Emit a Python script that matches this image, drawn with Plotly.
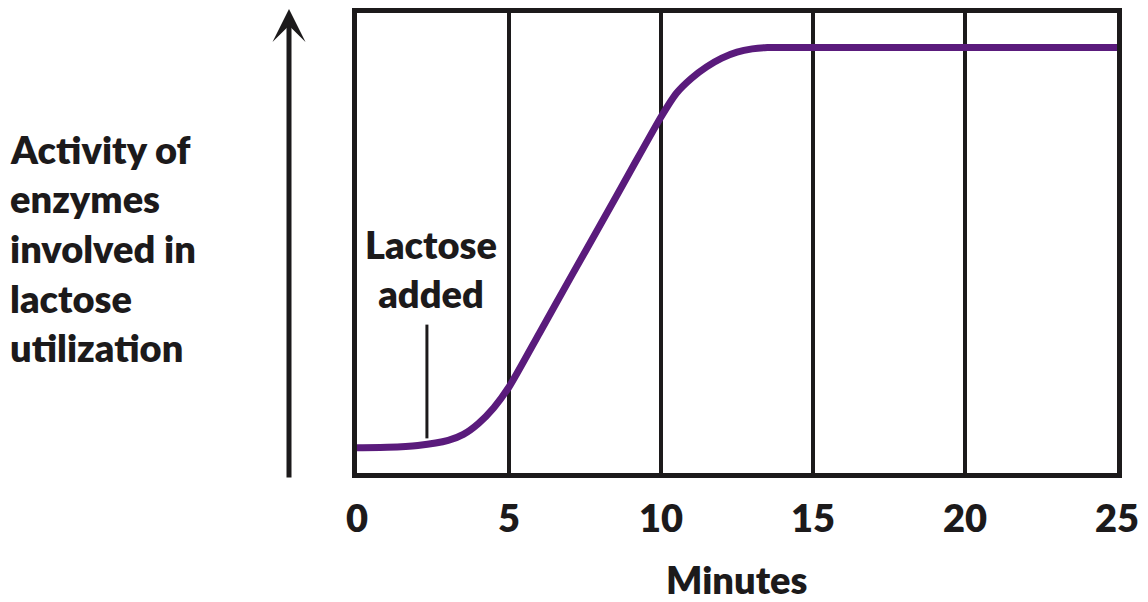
import plotly.graph_objects as go

# Data (minutes, relative enzyme activity 0..1)
minutes = [0, 1, 2, 3, 3.5, 4, 4.5, 5, 6, 7, 8, 9, 10, 10.5, 11, 11.5, 12, 12.5, 13, 13.5, 15, 20, 25]
activity = [0.055, 0.056, 0.060, 0.071, 0.084, 0.108, 0.142, 0.187, 0.304, 0.422, 0.539,
            0.657, 0.774, 0.825, 0.858, 0.883, 0.902, 0.915, 0.922, 0.925, 0.925, 0.925, 0.925]
x_ticks = [0, 5, 10, 15, 20, 25]
x_tick_labels = ["0", "5", "10", "15", "20", "25"]
y_label_lines = ["Activity of", "enzymes", "involved in", "lactose", "utilization"]
x_title = "Minutes"
lactose_label = "Lactose<br>added"
lactose_time = 2.3

INK = "#1c1a1b"
PURPLE = "#5a1b7c"
FONT = "Lato"
WEIGHT = 800

fig = go.Figure()
fig.add_trace(go.Scatter(
    x=minutes, y=activity, mode="lines",
    line=dict(color=PURPLE, width=7, shape="spline", smoothing=0.6),
    hoverinfo="skip", showlegend=False,
))

W, H = 1148, 602
L, R, T, B = 357, 31, 8, 129
pw, ph = W - L - R, H - T - B

def px_to_paper_x(px):
    return (px - L) / pw

def px_to_paper_y(py):
    return (H - B - py) / ph

fig.update_layout(
    width=W, height=H,
    margin=dict(l=L, r=R, t=T, b=B),
    plot_bgcolor="white", paper_bgcolor="white",
    font=dict(family=FONT, color=INK),
    xaxis=dict(
        range=[0, 25], tickvals=x_ticks, ticktext=x_tick_labels,
        showgrid=True, gridcolor=INK, gridwidth=4,
        showline=True, linecolor=INK, linewidth=5, mirror=True,
        ticks="outside", ticklen=0, ticklabelstandoff=8,
        tickfont=dict(family=FONT, size=38, color=INK, weight=WEIGHT),
        zeroline=False, fixedrange=True,
    ),
    yaxis=dict(
        range=[0, 1], showgrid=False, showticklabels=False,
        showline=True, linecolor=INK, linewidth=5, mirror=True,
        zeroline=False, fixedrange=True,
    ),
)

# x-axis title
fig.add_annotation(
    text=x_title, xref="paper", yref="paper",
    x=px_to_paper_x(737), y=px_to_paper_y(580),
    xanchor="center", yanchor="middle", showarrow=False,
    font=dict(family=FONT, size=38, color=INK, weight=WEIGHT),
)

# y-axis label lines
for i, line in enumerate(y_label_lines):
    fig.add_annotation(
        text=line, xref="paper", yref="paper",
        x=px_to_paper_x(8), y=px_to_paper_y(145 + i * 50.2),
        xanchor="left", yanchor="middle", showarrow=False,
        font=dict(family=FONT, size=38, color=INK, weight=WEIGHT),
    )

# vertical arrow left of plot
fig.add_annotation(
    xref="paper", yref="paper", axref="pixel", ayref="pixel",
    x=px_to_paper_x(289), y=px_to_paper_y(4),
    ax=0, ay=470,
    showarrow=True, arrowhead=3, arrowsize=1.1, arrowwidth=5, arrowcolor=INK, text="",
)

# "Lactose added" marker
fig.add_shape(
    type="line", xref="x", yref="paper",
    x0=lactose_time, x1=lactose_time,
    y0=px_to_paper_y(438), y1=px_to_paper_y(323),
    line=dict(color=INK, width=3),
)
fig.add_annotation(
    text=lactose_label, xref="paper", yref="paper",
    x=px_to_paper_x(431), y=px_to_paper_y(266),
    xanchor="center", yanchor="middle", showarrow=False,
    font=dict(family=FONT, size=38, color=INK, weight=WEIGHT),
)

fig.write_html(
    "out.html",
    config={"displayModeBar": False},
    post_script="document.body.style.margin='0';document.body.style.overflow='hidden';",
)
